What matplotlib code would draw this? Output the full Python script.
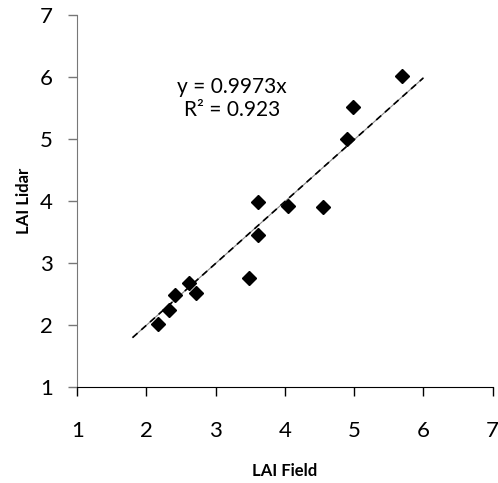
import numpy as np
import matplotlib
matplotlib.use('agg')
import matplotlib.pyplot as plt

# LAI values
lai_field = [2.17, 2.32, 2.41, 2.62, 2.71, 3.48, 3.61, 3.61, 4.05, 4.55, 4.90, 4.99, 5.69]
lai_lidar = [2.01, 2.24, 2.48, 2.68, 2.52, 2.76, 3.99, 3.45, 3.92, 3.90, 5.00, 5.51, 6.02]
slope = 0.9973
fit_range = [1.8, 6.0]
ticks = [1, 2, 3, 4, 5, 6, 7]

plt.rcParams['font.family'] = ['Lato', 'DejaVu Sans']

fig = plt.figure(figsize=(4.98, 4.83), dpi=100)
ax = fig.add_axes([0.155, 0.199, 0.834, 0.770])

# trendline: thin grey line under black dashes (Excel look)
xf = np.array(fit_range)
ax.plot(xf, slope * xf, color='#888888', linewidth=0.8, zorder=2)
ax.plot(xf, slope * xf, color='black', linewidth=1.2, linestyle=(0, (4, 3)), zorder=2)

ax.plot(lai_field, lai_lidar, linestyle='none', marker='D', markersize=7.5,
        color='black', zorder=3)

ax.text(3.24, 5.65, 'y = 0.9973x\nR² = 0.923', ha='center', va='center',
        fontsize=15, linespacing=1.2)

ax.set_xlim(1, 7)
ax.set_ylim(1, 7)
ax.set_xticks(ticks)
ax.set_yticks(ticks)
ax.tick_params(axis='x', direction='out', length=6.5, width=1, pad=18, labelsize=16)
ax.tick_params(axis='y', direction='out', length=6.5, width=1, pad=11, labelsize=16,
               color='#777777')

for s in ['top', 'right']:
    ax.spines[s].set_visible(False)
ax.spines['left'].set_color('#777777')
ax.spines['bottom'].set_color('black')

ax.set_xlabel('LAI Field', fontsize=12, fontweight='bold', labelpad=16)
ax.set_ylabel('LAI Lidar', fontsize=12, fontweight='bold', labelpad=6)

fig.savefig('out.png', dpi=100)
